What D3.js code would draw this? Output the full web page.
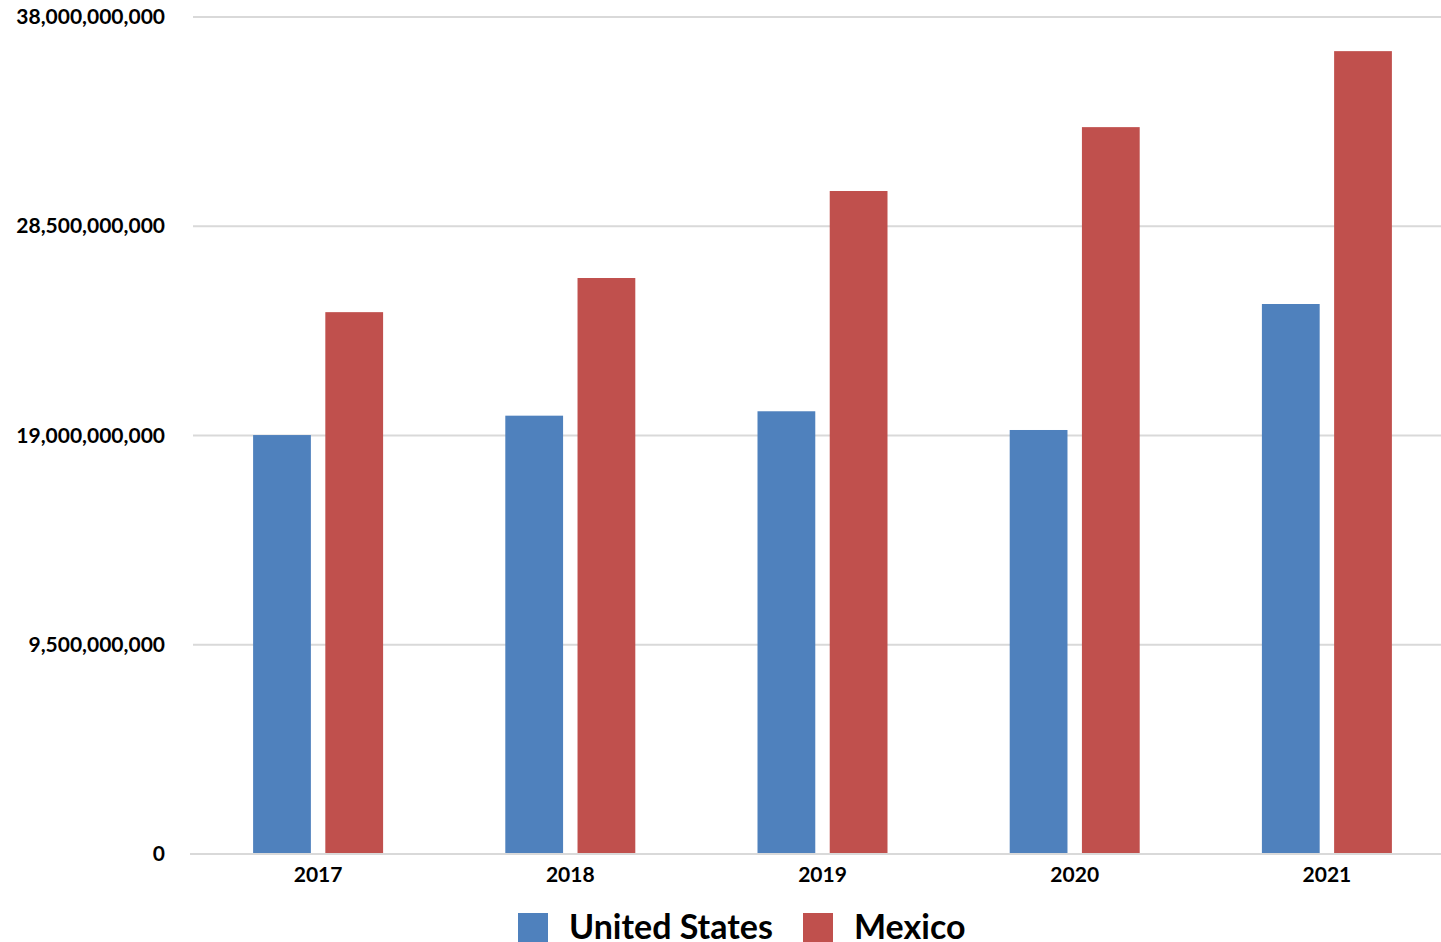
<!DOCTYPE html>
<html>
<head>
<meta charset="utf-8">
<script src="https://cdn.jsdelivr.net/npm/d3@7"></script>
<style>
  body { margin: 0; background: #fff; }
  text { font-family: Lato, "Open Sans", sans-serif; font-weight: bold; fill: #000; }
</style>
</head>
<body>
<div id="chart"></div>
<script>
// data
var years = ["2017", "2018", "2019", "2020", "2021"];
var seriesNames = ["United States", "Mexico"];
var unitedStates = [19.02e9, 19.9e9, 20.1e9, 19.25e9, 24.97e9];
var mexico = [24.6e9, 26.15e9, 30.1e9, 33.0e9, 36.45e9];
var yTicks = [0, 9.5e9, 19e9, 28.5e9, 38e9];
var colors = ["#4f81bd", "#c0504d"];

var width = 1441, height = 942;
var margin = {top: 17, bottom: 88, left: 192, right: -12};

var svg = d3.select("#chart").append("svg")
    .attr("width", width)
    .attr("height", height);

var x = d3.scaleBand()
    .domain(years)
    .range([margin.left, width - margin.right]);

var xInner = d3.scaleBand()
    .domain(seriesNames)
    .range([0, 130])
    .paddingInner(0.2);

var y = d3.scaleLinear()
    .domain([0, 38e9])
    .range([height - margin.bottom, margin.top]);

// gridlines
svg.append("g")
    .selectAll("line")
    .data(yTicks.slice(1))
    .enter().append("line")
    .attr("x1", 193).attr("x2", width)
    .attr("y1", function(d) { return y(d); })
    .attr("y2", function(d) { return y(d); })
    .style("stroke", "#d9d9d9")
    .style("stroke-width", 2);

var yAxis = svg.append("g")
    .attr("transform", "translate(165,0)")
    .call(d3.axisLeft(y).tickValues(yTicks).tickSize(0).tickPadding(0).tickFormat(d3.format(",")));
yAxis.select(".domain").remove();
yAxis.selectAll("text").style("font-size", "21px");

var rows = years.map(function(yr, i) { return {year: yr, values: [unitedStates[i], mexico[i]]}; });

var groups = svg.append("g")
    .selectAll("g")
    .data(rows)
    .enter().append("g")
    .attr("transform", function(d) { return "translate(" + (x(d.year) + x.bandwidth() / 2 - 65) + ",0)"; });

groups.selectAll("rect")
    .data(function(d) { return d.values.map(function(v, j) { return {name: seriesNames[j], value: v, c: colors[j]}; }); })
    .enter().append("rect")
    .attr("x", function(d) { return xInner(d.name); })
    .attr("width", xInner.bandwidth())
    .attr("y", function(d) { return y(d.value); })
    .attr("height", function(d) { return y(0) - y(d.value); })
    .style("fill", function(d) { return d.c; });

// baseline
svg.append("line")
    .attr("x1", 190).attr("x2", width)
    .attr("y1", y(0)).attr("y2", y(0))
    .style("stroke", "#d9d9d9")
    .style("stroke-width", 2);

var xAxis = svg.append("g")
    .attr("transform", "translate(0," + y(0) + ")")
    .call(d3.axisBottom(x).tickSize(0).tickPadding(13));
xAxis.select(".domain").remove();
xAxis.selectAll("text").style("font-size", "21px");

// legend
var legendX = [518, 803];
var legend = svg.append("g")
    .selectAll("g")
    .data(seriesNames)
    .enter().append("g")
    .attr("transform", function(d, i) { return "translate(" + legendX[i] + ",913)"; });
legend.append("rect")
    .attr("width", 30).attr("height", 29)
    .style("fill", function(d, i) { return colors[i]; });
legend.append("text")
    .attr("x", 51).attr("y", 26)
    .style("font-size", "34px")
    .text(function(d) { return d; });
</script>
</body>
</html>
